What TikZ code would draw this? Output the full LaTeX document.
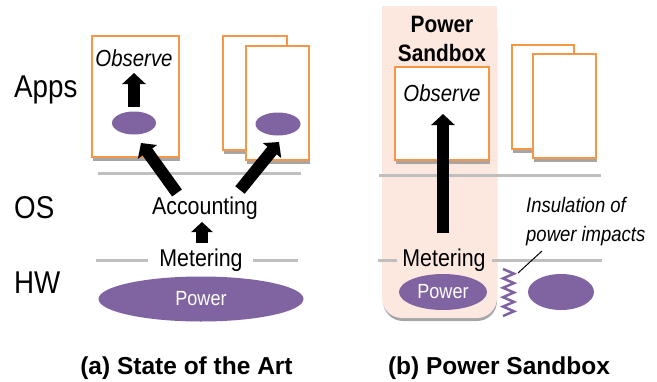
\documentclass[tikz,border=0pt]{standalone}
\usepackage{fontspec}
\setmainfont{Liberation Sans}
\newfontfamily\narrowfont[FakeStretch=0.88]{Liberation Sans}
\usetikzlibrary{arrows.meta,shapes.geometric,shadows}
\definecolor{orng}{HTML}{F79646}
\definecolor{purp}{HTML}{8064A2}
\definecolor{lgrey}{HTML}{BFBFBF}
\definecolor{shad}{HTML}{A6A6A6}
\definecolor{sandpink}{HTML}{FDE8E0}
\begin{document}
\begin{tikzpicture}[x=1pt,y=-1pt,
  appbox/.style={draw=orng,line width=2pt,fill=white,inner sep=0pt,
    general shadow={fill=shad,shadow xshift=1pt,shadow yshift=-4pt}},
  layer/.style={draw=lgrey,line width=3pt},
  blob/.style={ellipse,fill=purp,inner sep=0pt},
  fatarrow/.style={line width=12pt,-{Triangle[width=23pt,length=11pt]}},
  lbl/.style={inner sep=0pt,font=\narrowfont\fontsize{31.5}{34}\selectfont,anchor=west},
  obs/.style={inner sep=0pt,font=\narrowfont\fontsize{23.2}{26}\itshape},
  mid/.style={inner sep=0pt,font=\narrowfont\fontsize{24.3}{27}\selectfont},
  pw/.style={text=white,font=\narrowfont\fontsize{20.5}{24}\selectfont},
  captext/.style={inner sep=0pt,font=\fontsize{24.5}{28}\bfseries}]
\useasboundingbox (0,0) rectangle (657,381);

% ---- sandbox background
\fill[shad,rounded corners=20pt] (383,9) rectangle (497,321);
\fill[sandpink,rounded corners=20pt] (382,6) rectangle (497,318);
\fill[sandpink] (382,6) rectangle (497,60);

% ---- layer lines
\draw[layer] (98,173) -- (301,173);
\draw[layer] (379,175) -- (601,175);
\draw[layer] (96,260) -- (148,260);
\draw[layer] (253,260) -- (298,260);
\draw[layer] (378,260) -- (397,260);
\draw[layer] (492,260) -- (602,260);

% ---- side labels
\node[lbl] (apps) at (14,90) {Apps};
\node[lbl] (os) at (14,208) {OS};
\node[lbl] (hw) at (14,283) {HW};

% ---- (a) state of the art
\node[appbox,minimum width=87pt,minimum height=121pt] (box1) at (135.5,96.5) {};
\node[appbox,minimum width=64pt,minimum height=114pt] (box2b) at (255,93) {};
\node[appbox,minimum width=63pt,minimum height=114pt] (box2f) at (277.5,103) {};
\node[obs] (obs1) at (134,58) {Observe};
\node[blob,minimum width=44pt,minimum height=23pt] (e1) at (134,123) {};
\node[blob,minimum width=45pt,minimum height=23pt] (e2) at (278,124) {};
\node[mid] (acc) at (205,208) {Accounting};
\node[mid] (met1) at (201,260) {Metering};
\node[blob,pw,minimum width=205pt,minimum height=45pt] (pow1) at (201,299) {Power};
\node[captext] (capa) at (186.5,368) {(a) State of the Art};

\coordinate (a1s) at (134,107);
\coordinate (a1e) at (134,73);
\draw[fatarrow] (a1s) -- (a1e);
\coordinate (a2s) at (177,193);
\coordinate (a2e) at (141,143);
\draw[fatarrow] (a2s) -- (a2e);
\coordinate (a3s) at (240,190);
\coordinate (a3e) at (279,142);
\draw[fatarrow] (a3s) -- (a3e);
\coordinate (a4s) at (202,243);
\coordinate (a4e) at (202,222);
\draw[line width=12pt,-{Triangle[width=21pt,length=10pt]}] (a4s) -- (a4e);

% ---- (b) power sandbox
\node[inner sep=0pt,align=center,font=\narrowfont\fontsize{23.7}{29}\bfseries] (sbt) at (442,38.5) {Power\\Sandbox};
\node[appbox,minimum width=94pt,minimum height=93pt] (box3) at (442,113.5) {};
\node[appbox,minimum width=62pt,minimum height=104pt] (box4b) at (543,97) {};
\node[appbox,minimum width=63pt,minimum height=104pt] (box4f) at (564.5,106) {};
\node[obs] (obs2) at (442,93) {Observe};
\node[mid] (met2) at (444,260) {Metering};
\node[blob,pw,minimum width=88pt,minimum height=36pt] (pow2) at (443,292) {Power};
\node[blob,minimum width=66pt,minimum height=36pt] (e4) at (561,292) {};
\coordinate (a5s) at (443,233);
\coordinate (a5e) at (443,114);
\draw[fatarrow] (a5s) -- (a5e);

\draw[purp,line width=2.5pt] (503,269) -- (514,273.7) -- (503,278.4) -- (514,283.1)
  -- (503,287.8) -- (514,292.5) -- (503,297.2) -- (514,301.9) -- (503,306.6)
  -- (514,311.3) -- (503,316);
\coordinate (zz) at (518,273);
\node[inner sep=0pt,align=left,anchor=west,font=\narrowfont\fontsize{21}{29}\itshape] (ins) at (526,221.5) {Insulation of\\power impacts};
\coordinate (insp) at (542,251);
\draw[line width=1pt] (insp) -- (zz);
\node[captext] (capb) at (499,368) {(b) Power Sandbox};
\end{tikzpicture}
\end{document}
